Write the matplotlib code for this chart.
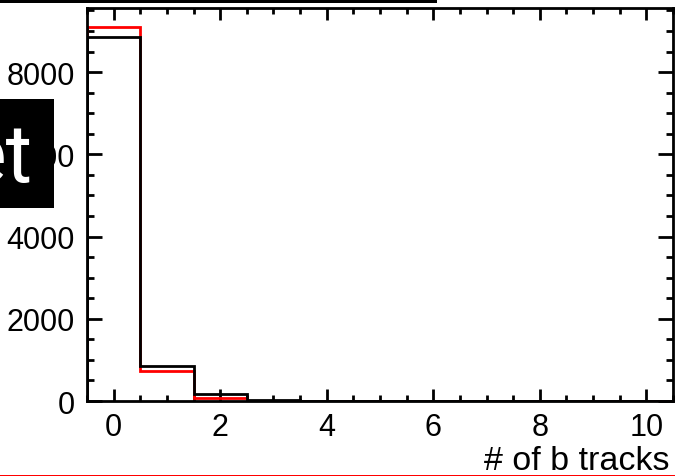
import matplotlib
matplotlib.use("Agg")
import matplotlib.pyplot as plt
from matplotlib.ticker import MultipleLocator
from matplotlib.patches import Rectangle
import numpy as np

# Data: number of b tracks histogram (bins centered on integers 0..10)
bin_edges = [-0.5, 0.5, 1.5, 2.5, 3.5, 4.5, 5.5, 6.5, 7.5, 8.5, 9.5, 10.5]
black_counts = [8856, 844, 170, 35, 8, 2, 0, 0, 0, 0, 0]
red_counts = [9087, 723, 73, 10, 2, 0, 0, 0, 0, 0, 0]
x_ticks = [0, 2, 4, 6, 8, 10]
y_ticks = [0, 2000, 4000, 6000, 8000]
xlabel = "# of b tracks"
overlay_text = "et"

W, H = 683, 477
fig = plt.figure(figsize=(W / 100, H / 100), dpi=100)
ax = fig.add_axes([87 / W, 1 - 402 / H, (673 - 87) / W, (402 - 9) / H])

ax.stairs(red_counts, bin_edges, color="#ff0000", linewidth=2.0, zorder=2)
ax.stairs(black_counts, bin_edges, color="black", linewidth=2.0, zorder=3)

ax.set_xlim(-0.5, 10.5)
ax.set_ylim(0, max(red_counts) * 1.052)
ax.set_xticks(x_ticks)
ax.set_yticks(y_ticks)
ax.xaxis.set_minor_locator(MultipleLocator(0.5))
ax.yaxis.set_minor_locator(MultipleLocator(500))

font = "Liberation Sans"
for lab in ax.get_xticklabels() + ax.get_yticklabels():
    lab.set_fontfamily(font)
    lab.set_fontsize(22)

ax.tick_params(axis="both", which="both", direction="in", top=True, right=True, width=2.0, colors="black")
ax.tick_params(axis="x", which="major", length=8.6, pad=8)
ax.tick_params(axis="x", which="minor", length=4.3)
ax.tick_params(axis="y", which="major", length=10.5, pad=9)
ax.tick_params(axis="y", which="minor", length=4.8)
for sp in ax.spines.values():
    sp.set_linewidth(2.0)
    sp.set_zorder(5)

fig.text(670 / W, 1 - 470.5 / H, xlabel, ha="right", va="baseline", fontsize=24.5, fontfamily=font)

# Overlay decorations seen in the reference
fig.add_artist(Rectangle((0, 1 - 209 / H), 54 / W, 109 / H, transform=fig.transFigure,
                         facecolor="black", edgecolor="none", zorder=10))
fig.text(32 / W, 1 - 182 / H, overlay_text, ha="right", va="baseline", fontsize=58,
         fontfamily="Roboto", color="white", zorder=11)
fig.add_artist(Rectangle((0, 1 - 3.5 / H), 437 / W, 3.5 / H, transform=fig.transFigure,
                         facecolor="black", edgecolor="none", zorder=10))
fig.add_artist(Rectangle((0, 0), 675 / W, 1.2 / H, transform=fig.transFigure,
                         facecolor="#ff0000", edgecolor="none", antialiased=False, zorder=10))

fig.savefig("out.png", dpi=100)
